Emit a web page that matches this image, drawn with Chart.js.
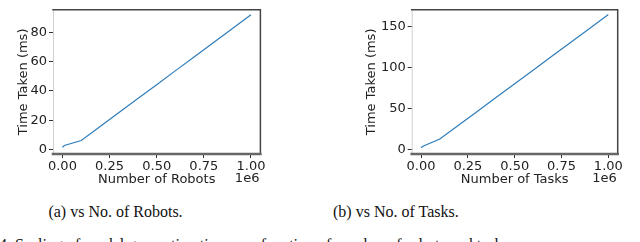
<!DOCTYPE html>
<html><head><meta charset="utf-8">
<script src="https://cdn.jsdelivr.net/npm/chart.js@4/dist/chart.umd.min.js"></script>
<style>
html,body{margin:0;padding:0;background:#fff;width:640px;height:242px;overflow:hidden;position:relative}
canvas{position:absolute;top:0}
.cap{position:absolute;font-family:"Liberation Serif","Times New Roman",serif;font-size:16px;color:#111;white-space:nowrap;line-height:16px}
</style></head><body>
<canvas id="c1" width="280" height="200" style="left:0"></canvas>
<canvas id="c2" width="310" height="200" style="left:330px"></canvas>
<div class="cap" style="left:0;width:231px;text-align:center;top:204px">(a) vs No. of Robots.</div>
<div class="cap" style="left:333px;width:120px;text-align:center;top:204px">(b) vs No. of Tasks.</div>
<div class="cap" style="left:-1px;top:237px">4. Scaling of model generation time as a function of number of robots and tasks.</div>
<script>
const xValues = [0, 10000, 100000, 200000, 300000, 400000, 500000, 600000, 700000, 800000, 900000, 1000000];
const robotTimes = [1.5, 2.8, 6.2, 15.7, 25.3, 34.8, 44.3, 53.9, 63.4, 72.9, 82.5, 92.0];
const taskTimes = [2.0, 3.8, 12.5, 29.4, 46.4, 63.3, 80.3, 97.2, 114.1, 131.1, 148.0, 165.0];
const xTicks = [0, 250000, 500000, 750000, 1000000];
const robotYTicks = [0, 20, 40, 60, 80];
const taskYTicks = [0, 50, 100, 150];

const FONT = "'DejaVu Sans', sans-serif";
const frame = {
  id: 'frame',
  afterDatasetsDraw(chart) {
    const {ctx, chartArea: a} = chart;
    ctx.save();
    ctx.lineCap = 'square';
    ctx.strokeStyle = '#d0d0d0'; ctx.lineWidth = 1;
    ctx.beginPath(); ctx.moveTo(a.left + 0.5, a.top); ctx.lineTo(a.left + 0.5, a.bottom); ctx.stroke();
    ctx.strokeStyle = '#444'; ctx.lineWidth = 1.5;
    ctx.beginPath(); ctx.moveTo(a.left, a.top); ctx.lineTo(a.right, a.top); ctx.lineTo(a.right, a.bottom); ctx.stroke();
    ctx.strokeStyle = '#666'; ctx.lineWidth = 2.5;
    ctx.beginPath(); ctx.moveTo(a.left, a.bottom); ctx.lineTo(a.right, a.bottom); ctx.stroke();
    ctx.fillStyle = '#222'; ctx.font = "13px " + FONT;
    ctx.textAlign = 'right'; ctx.textBaseline = 'middle';
    ctx.fillText('1e6', a.right - 1, 179);
    ctx.restore();
  }
};

function makeChart(id, yvals, ymin, ymax, yticks, xtitle, yAxisWidth, ytitlePad, padRight) {
  return new Chart(document.getElementById(id), {
    type: 'line',
    data: { datasets: [{
      data: xValues.map((x, i) => ({x, y: yvals[i]})),
      borderColor: '#2f7dba', borderWidth: 1.2, pointRadius: 0, tension: 0, fill: false
    }]},
    options: {
      responsive: false, animation: false, devicePixelRatio: 1,
      layout: { padding: { top: 1, right: padRight, left: 0, bottom: 0 } },
      plugins: { legend: { display: false }, tooltip: { enabled: false } },
      scales: {
        x: {
          type: 'linear', min: -50000, max: 1050000,
          afterBuildTicks: ax => { ax.ticks = xTicks.map(v => ({value: v})); },
          afterFit: ax => { ax.height = 46; },
          ticks: { font: { family: FONT, size: 13 }, color: '#222', padding: 1, maxRotation: 0, autoSkip: false,
                   callback: v => (v / 1e6).toFixed(2) },
          grid: { drawOnChartArea: false, drawTicks: true, tickLength: 4, tickColor: '#333', tickWidth: 1 },
          border: { display: false },
          title: { display: true, text: xtitle, font: { family: FONT, size: 13 }, color: '#222', padding: { top: 0, bottom: 13 } }
        },
        y: {
          type: 'linear', min: ymin, max: ymax,
          afterBuildTicks: ax => { ax.ticks = yticks.map(v => ({value: v})); },
          afterFit: ax => { ax.width = yAxisWidth; },
          ticks: { font: { family: FONT, size: 13 }, color: '#222', padding: 2, autoSkip: false },
          grid: { drawOnChartArea: false, drawTicks: true, tickLength: 4, tickColor: '#333', tickWidth: 1 },
          border: { display: false },
          title: { display: true, text: 'Time Taken (ms)', font: { family: FONT, size: 13 }, color: '#222', padding: { top: ytitlePad, bottom: 0 } }
        }
      }
    },
    plugins: [frame]
  });
}

makeChart('c1', robotTimes, -3.0, 95.4, robotYTicks, 'Number of Robots', 53, 16, 19.6);
makeChart('c2', taskTimes, -5.77, 170.8, taskYTicks, 'Number of Tasks', 81.7, 34, 22.3);
</script>
</body></html>
